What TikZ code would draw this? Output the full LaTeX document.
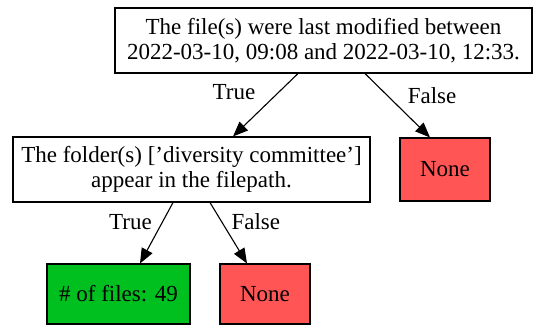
\documentclass[tikz,border=0pt]{standalone}
\usepackage{fontspec}
\setmainfont{Liberation Serif}
\usepackage{xcolor}
\usetikzlibrary{arrows.meta, positioning}
\definecolor{leafred}{RGB}{255,85,85}
\definecolor{leafgreen}{RGB}{0,192,32}
\tikzset{
    test/.style={rectangle, draw=black, line width=1.1pt, fill=white, align=center, inner sep=0pt, font=\fontsize{23}{25}\selectfont},
    leaf/.style={rectangle, draw=black, line width=1.1pt, align=center, inner sep=0pt, font=\fontsize{23}{25}\selectfont},
    lbl/.style={font=\fontsize{23}{25}\selectfont, inner sep=0pt},
    arrow/.style={line width=1.1pt, -{Triangle[length=15pt, width=12pt]}},
}

\begin{document}
\begin{tikzpicture}[x=1pt, y=-1pt]
  \useasboundingbox (0,0) rectangle (545,327);
  \node[test, minimum width=417pt, minimum height=65pt] (when) at (323.5,40.5)
    {The file(s) were last modified between\\2022-03-10, 09:08 and 2022-03-10, 12:33.};
  \node[test, minimum width=357pt, minimum height=65pt] (where) at (191.5,169.5)
    {The folder(s) [’diversity committee’]\\appear in the filepath.};
  \node[leaf, fill=leafred, minimum width=90pt, minimum height=63pt] (none1) at (445,169.5) {None};
  \node[leaf, fill=leafgreen, minimum width=143pt, minimum height=60pt] (files) at (118.5,294) {\# of files: 49};
  \node[leaf, fill=leafred, minimum width=90pt, minimum height=60pt] (none2) at (265,294) {None};

  \path[arrow] ([xshift=-25.5pt]when.south) edge node[lbl, pos=0.3, xshift=-44.5pt] {True} ([xshift=41.5pt]where.north);
  \path[arrow] ([xshift=41.5pt]when.south) edge node[lbl, pos=0.34, xshift=45pt] {False} ([xshift=-15pt]none1.north);
  \path[arrow] ([xshift=-18.5pt]where.south) edge node[lbl, pos=0.32, xshift=-32pt] {True} ([xshift=21.5pt]files.north);
  \path[arrow] ([xshift=18.5pt]where.south) edge node[lbl, pos=0.32, xshift=34pt] {False} ([xshift=-18pt]none2.north);
\end{tikzpicture}
\end{document}
